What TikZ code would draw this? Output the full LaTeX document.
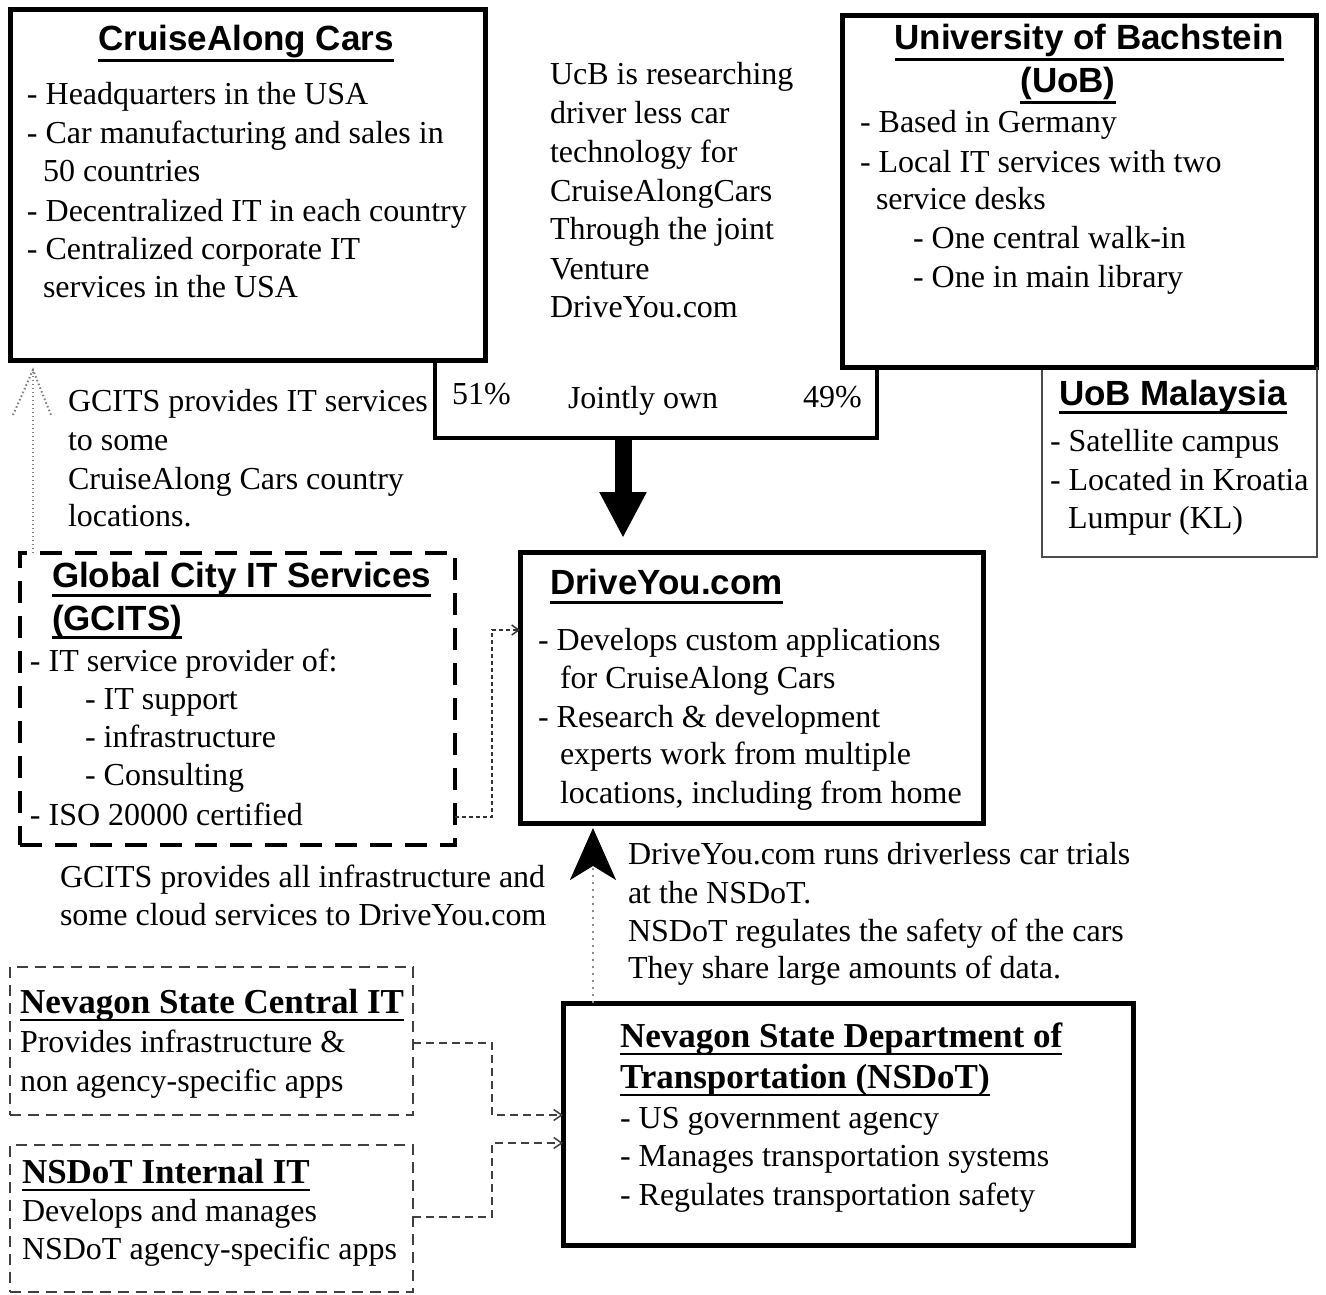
\documentclass[tikz,border=0pt]{standalone}
\usepackage{fontspec}
\setmainfont{Liberation Serif}
\newfontfamily\hsans{Liberation Sans}
\usetikzlibrary{arrows.meta}
\newcommand\ulbox[3]{\setbox0=\hbox{#3}\rlap{\rule[-#1]{\wd0}{#2}}\box0}
\tikzset{
  box/.style={draw, line width=5pt, anchor=north west, inner sep=0pt, outer sep=0pt},
  dbox/.style={draw, line width=4pt, dash pattern=on 22pt off 13pt, anchor=north west, inner sep=0pt, outer sep=0pt},
  tbox/.style={draw=black!75, line width=2pt, dash pattern=on 11pt off 7pt, anchor=north west, inner sep=0pt, outer sep=0pt},
  gbox/.style={draw=black!70, line width=2pt, anchor=north west, inner sep=0pt, outer sep=0pt},
  txt/.style={font=\fontsize{32}{38}\selectfont, inner sep=0pt, outer sep=0pt, anchor=base west},
  hsf/.style={font=\hsans\bfseries\fontsize{35}{40}\selectfont, inner sep=0pt, outer sep=0pt, anchor=base west},
  hbf/.style={font=\bfseries\fontsize{35}{40}\selectfont, inner sep=0pt, outer sep=0pt, anchor=base west},
  jline/.style={line width=4pt},
  bigarrow/.style={line width=17pt, -{Triangle[length=46pt, width=44pt]}},
  dotconn/.style={draw=black!80, line width=1.8pt, dash pattern=on 4pt off 3pt, -{Straight Barb[length=7pt, width=10pt, line width=1.5pt]}},
  dashconn/.style={draw=black!75, line width=1.6pt, dash pattern=on 8pt off 5pt, -{Straight Barb[length=8pt, width=11pt, line width=1.5pt]}},
  upconn/.style={draw=black!45, line width=2.5pt, dash pattern=on 2.5pt off 4.5pt, -{Stealth[length=52pt, width=46pt, inset=14pt, color=black]}},
  leftconn/.style={draw=black!50, line width=2pt, dash pattern=on 1.5pt off 2.5pt},
}
\begin{document}
\begin{tikzpicture}[x=1pt, y=-1pt]
\fill[white] (0,0) rectangle (1326,1295);
\useasboundingbox (0,0) rectangle (1326,1295);

% ---------- boxes ----------
\node[box, minimum width=475pt, minimum height=350pt] (cruise) at (10,10) {};
\node[box, minimum width=474pt, minimum height=351pt] (uob) at (842,16) {};
\node[gbox, minimum width=275pt, minimum height=189pt] (uobm) at (1042,368) {};
\node[box, minimum width=463pt, minimum height=271pt] (drive) at (520,552) {};
\node[dbox, minimum width=435pt, minimum height=292pt] (gcits) at (20,553) {};
\node[box, minimum width=570pt, minimum height=242pt] (nsdot) at (563,1003) {};
\node[tbox, minimum width=403pt, minimum height=148pt] (central) at (10,967) {};
\node[tbox, minimum width=403pt, minimum height=147pt] (internal) at (10,1145) {};
% redraw UoB bottom over the Malaysia box top
\draw[line width=5pt] (uob.south west) -- (uob.south east);

% ---------- joint ownership bracket ----------
\node[inner sep=0pt, outer sep=0pt, minimum width=442pt, minimum height=78pt, anchor=north west] (joint) at (435,360) {};
\draw[jline] (joint.north west) -- (joint.south west) -- (joint.south east) -- ([yshift=-7pt]joint.north east);
\node[txt] (p51) at (452,404) {51\%};
\node[txt] (jo) at (568,408) {Jointly own};
\node[txt] (p49) at (803,407) {49\%};
\coordinate (ax) at (623,0);
\draw[bigarrow] (joint.south -| ax) -- ([yshift=14pt]drive.north -| ax);

% ---------- CruiseAlong Cars ----------
\node[hsf, anchor=base] (cah) at (246,51) {\ulbox{11pt}{3pt}{CruiseAlong Cars}};
\node[txt] (c1) at (27,105) {- Headquarters in the USA};
\node[txt] (c2) at (27,144) {- Car manufacturing and sales in};
\node[txt] (c3) at (43,182) {50 countries};
\node[txt] (c4) at (27,221) {- Decentralized IT in each country};
\node[txt] (c5) at (27,259) {- Centralized corporate IT};
\node[txt] (c6) at (43,297) {services in the USA};

% ---------- middle text ----------
\node[txt] (m1) at (550,85) {UcB is researching};
\node[txt] (m2) at (550,124) {driver less car};
\node[txt] (m3) at (550,163) {technology for};
\node[txt] (m4) at (550,201) {CruiseAlongCars};
\node[txt] (m5) at (550,240) {Through the joint};
\node[txt] (m6) at (550,279) {Venture};
\node[txt] (m7) at (550,317) {DriveYou.com};

% ---------- University of Bachstein ----------
\node[hsf, anchor=base] (uh1) at (1089,50) {\ulbox{11pt}{3pt}{University of Bachstein}};
\node[hsf, anchor=base] (uh2) at (1068,93) {\ulbox{11pt}{3pt}{(UoB)}};
\node[txt] (u1) at (860,133) {- Based in Germany};
\node[txt] (u2) at (860,172) {- Local IT services with two};
\node[txt] (u3) at (876,210) {service desks};
\node[txt] (u4) at (913,248) {- One central walk-in};
\node[txt] (u5) at (913,287) {- One in main library};

% ---------- UoB Malaysia ----------
\node[hsf] (mh) at (1059,405) {\ulbox{9pt}{3pt}{UoB Malaysia}};
\node[txt] (ml1) at (1050,451) {- Satellite campus};
\node[txt] (ml2) at (1050,490) {- Located in Kroatia};
\node[txt] (ml3) at (1068,528) {Lumpur (KL)};

% ---------- left note ----------
\node[txt] (l1) at (68,411) {GCITS provides IT services};
\node[txt] (l2) at (68,450) {to some};
\node[txt] (l3) at (68,489) {CruiseAlong Cars country};
\node[txt] (l4) at (68,526) {locations.};
\coordinate (lx) at (33,0);
\coordinate (ltip) at (33,370);
\draw[leftconn] (gcits.north -| lx) -- (ltip);
\draw[leftconn] ([xshift=-20pt, yshift=-45pt]ltip) -- (ltip) -- ([xshift=18pt, yshift=-45pt]ltip);

% ---------- GCITS ----------
\node[hsf] (gh1) at (52,587) {\ulbox{10pt}{3pt}{Global City IT Services}};
\node[hsf] (gh2) at (52,630) {\ulbox{9pt}{3pt}{(GCITS)}};
\node[txt] (g1) at (30,671) {- IT service provider of:};
\node[txt] (g2) at (85,709) {- IT support};
\node[txt] (g3) at (85,747) {- infrastructure};
\node[txt] (g4) at (85,785) {- Consulting};
\node[txt] (g5) at (30,825) {- ISO 20000 certified};
\node[txt] (gn1) at (60,887) {GCITS provides all infrastructure and};
\node[txt] (gn2) at (60,925) {some cloud services to DriveYou.com};
\coordinate (gx) at (492,0);
\draw[dotconn] ([yshift=28pt]gcits.south east) -| ([yshift=-78pt]drive.north -| gx) -- ([yshift=-78pt]drive.north west);

% ---------- DriveYou.com ----------
\node[hsf] (dh) at (550,594) {\ulbox{10pt}{3pt}{DriveYou.com}};
\node[txt] (d1) at (538,650) {- Develops custom applications};
\node[txt] (d2) at (560,688) {for CruiseAlong Cars};
\node[txt] (d3) at (538,727) {- Research \& development};
\node[txt] (d4) at (560,764) {experts work from multiple};
\node[txt] (d5) at (560,803) {locations, including from home};

% ---------- NSDoT note and arrow ----------
\coordinate (nx) at (593,0);
\draw[upconn] (nsdot.north -| nx) -- ([yshift=-5pt]drive.south -| nx);
\node[txt] (n1) at (628,864) {DriveYou.com runs driverless car trials};
\node[txt] (n2) at (628,903) {at the NSDoT.};
\node[txt] (n3) at (628,941) {NSDoT regulates the safety of the cars};
\node[txt] (n4) at (628,978) {They share large amounts of data.};

% ---------- NSDoT ----------
\node[hbf] (nh1) at (620,1047) {\ulbox{8pt}{2.5pt}{Nevagon State Department of}};
\node[hbf] (nh2) at (620,1088) {\ulbox{8pt}{2.5pt}{Transportation (NSDoT)}};
\node[txt] (s1) at (620,1128) {- US government agency};
\node[txt] (s2) at (620,1166) {- Manages transportation systems};
\node[txt] (s3) at (620,1205) {- Regulates transportation safety};

% ---------- Nevagon State Central IT ----------
\node[hbf] (ch) at (20,1013) {\ulbox{8pt}{2.5pt}{Nevagon State Central IT}};
\node[txt] (ce1) at (20,1052) {Provides infrastructure \&};
\node[txt] (ce2) at (20,1091) {non agency-specific apps};

% ---------- NSDoT Internal IT ----------
\node[hbf] (ih) at (22,1183) {\ulbox{8pt}{2pt}{NSDoT Internal IT}};
\node[txt] (i1) at (22,1221) {Develops and manages};
\node[txt] (i2) at (22,1259) {NSDoT agency-specific apps};

% ---------- dashed connectors into NSDoT ----------
\draw[dashconn] ([yshift=-76pt]central.north east) -| ([yshift=-112pt]nsdot.north -| gx) -- ([yshift=-112pt]nsdot.north west);
\draw[dashconn] ([yshift=75pt]internal.south east) -| ([yshift=-140pt]nsdot.north -| gx) -- ([yshift=-140pt]nsdot.north west);
\end{tikzpicture}
\end{document}
